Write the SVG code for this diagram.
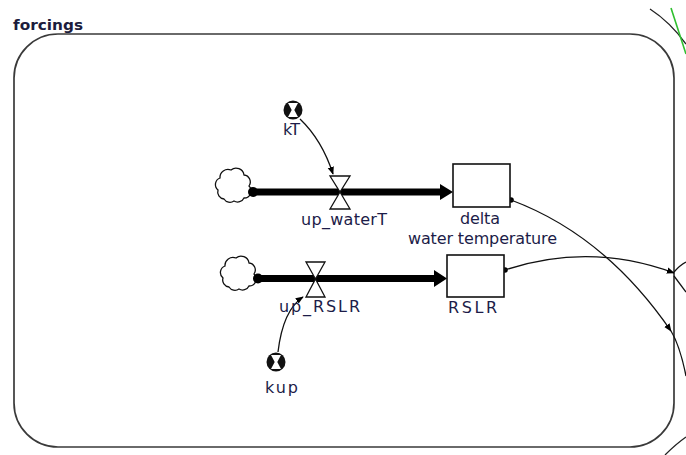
<svg xmlns="http://www.w3.org/2000/svg" width="686" height="455" viewBox="0 0 686 455">
<defs>
<style>
.lbl{font-family:"DejaVu Sans","Liberation Sans",sans-serif;font-size:16px;fill:#1c1c48;text-anchor:start}
.title{font-family:"DejaVu Sans","Liberation Sans",sans-serif;font-size:14px;font-weight:bold;fill:#1c1c3c}
.conn{fill:none;stroke:#111;stroke-width:1.3}
.pipe{stroke:#000;stroke-width:7;fill:none}
.stock{fill:#fff;stroke:#111;stroke-width:1.6}
.valve{fill:#fff;stroke:#111;stroke-width:1.3;stroke-linejoin:miter}
.cloud{fill:#fff;stroke:#111;stroke-width:1.3}
</style>
<marker id="ah" viewBox="0 0 10 10" refX="9" refY="5" markerWidth="8" markerHeight="8" markerUnits="userSpaceOnUse" orient="auto">
<path d="M0,1 L10,5 L0,9 Z" fill="#000"/>
</marker>
<g id="cloudShape">
<path class="cloud" d="M-10,14 A7,7 0 0 1 -16,5 A7,7 0 0 1 -14,-7 A8,8 0 0 1 -3,-15 A8,8 0 0 1 10,-10 A7,7 0 0 1 15,1 A7,7 0 0 1 10,13 A7,7 0 0 1 0,16 A7,7 0 0 1 -10,14 Z"/>
</g>
<g id="convShape">
<circle r="9.5" fill="#111"/>
<path d="M-5,-7 L5,-7 L1.3,0 L5,7 L-5,7 L-1.3,0 Z" fill="#fff"/>
</g>
</defs>
<rect width="686" height="455" fill="#fff"/>

<g id="sector">
<rect x="14" y="34" width="660" height="413" rx="44" ry="44" fill="none" stroke="#3a3a3a" stroke-width="1.7"/>
<text class="title" x="13" y="30" textLength="70" lengthAdjust="spacingAndGlyphs">forcings</text>
</g>

<g id="outside">
<path d="M650,9 Q670,22 686,44" fill="none" stroke="#222" stroke-width="1.3"/>
<path d="M671,8 L686,54" fill="none" stroke="#2fbf2f" stroke-width="1.6"/>
<path d="M665,455 Q676,444 686,437" fill="none" stroke="#222" stroke-width="1.3"/>
</g>

<g id="connectors">
<path class="conn" d="M300,119 Q322,140 333,174" marker-end="url(#ah)"/>
<path class="conn" d="M278,352 Q283,310 303,297" marker-end="url(#ah)"/>
<circle cx="511" cy="200" r="2.8" fill="#000"/>
<path class="conn" d="M511,200 Q605,235 671,331" marker-end="url(#ah)"/>
<circle cx="505" cy="270" r="2.8" fill="#000"/>
<path class="conn" d="M505,270 Q590,242 674,273" marker-end="url(#ah)"/>
<path class="conn" d="M671,331 Q680,346 686,376"/>
<path class="conn" d="M674,272 Q680,265 686,262"/>
<path class="conn" d="M674,276 L686,292"/>
</g>

<g id="flow_up_waterT">
<use href="#cloudShape" x="234" y="185"/>
<line class="pipe" x1="253" y1="192" x2="442" y2="192"/>
<circle cx="253" cy="192" r="5" fill="#000"/>
<path d="M440,184 L453,192 L440,200 Z" fill="#000"/>
<path class="valve" d="M330,176 L350,176 L340,192 Z M340,192 L350,209 L330,209 Z"/>
<text class="lbl" x="301" y="225" textLength="86" lengthAdjust="spacing">up_waterT</text>
</g>

<g id="stock_delta">
<rect class="stock" x="453" y="164" width="57" height="43"/>
<text class="lbl" x="460" y="224" textLength="40" lengthAdjust="spacing">delta</text>
<text class="lbl" x="408" y="244" textLength="149" lengthAdjust="spacing">water temperature</text>
</g>

<g id="conv_kT">
<use href="#convShape" x="293" y="110"/>
<text class="lbl" x="283" y="135" textLength="17" lengthAdjust="spacing">kT</text>
</g>

<g id="flow_up_RSLR">
<use href="#cloudShape" x="239" y="273"/>
<line class="pipe" x1="258" y1="278.5" x2="436" y2="278.5"/>
<circle cx="258" cy="278.5" r="5" fill="#000"/>
<path d="M434,270 L447,278.5 L434,287 Z" fill="#000"/>
<path class="valve" d="M306,262 L325,262 L315.5,279 Z M315.5,279 L325,297 L306,297 Z"/>
<text class="lbl" x="279" y="312" textLength="81" lengthAdjust="spacing">up_RSLR</text>
</g>

<g id="stock_RSLR">
<rect class="stock" x="447" y="255" width="57" height="42"/>
<text class="lbl" x="448" y="313" textLength="49" lengthAdjust="spacing">RSLR</text>
</g>

<g id="conv_kup">
<use href="#convShape" x="276" y="362"/>
<text class="lbl" x="265" y="393" textLength="33" lengthAdjust="spacing">kup</text>
</g>
</svg>
